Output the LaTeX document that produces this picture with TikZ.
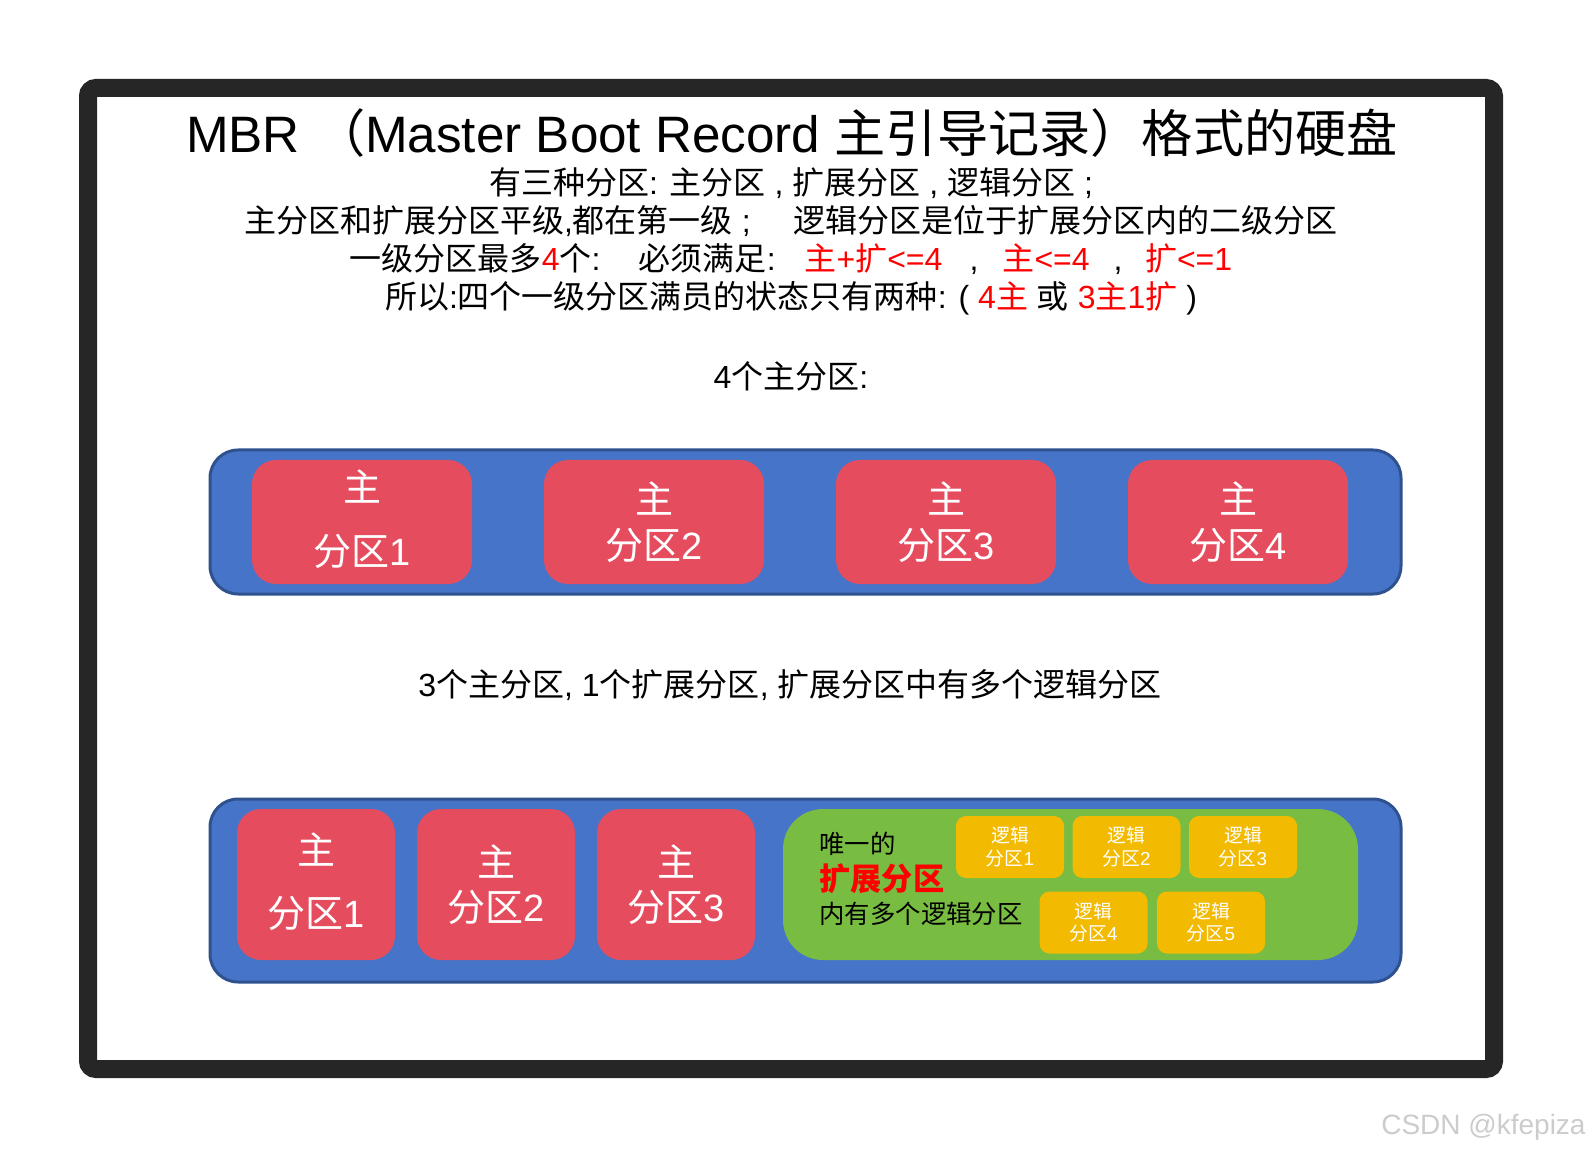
\documentclass[tikz,border=0pt]{standalone}
\usepackage{fontspec}
\setmainfont{Liberation Sans}
\newfontfamily\cjkfont{Noto Sans CJK SC}
\XeTeXinterchartokenstate=1
\newXeTeXintercharclass\cjkcls
\makeatletter
\count@="3000
\loop \XeTeXcharclass\count@=\cjkcls \ifnum\count@<"303F \advance\count@\@ne \repeat
\count@="4E00
\loop \XeTeXcharclass\count@=\cjkcls \ifnum\count@<"9FFF \advance\count@\@ne \repeat
\count@="FF00
\loop \XeTeXcharclass\count@=\cjkcls \ifnum\count@<"FFEF \advance\count@\@ne \repeat
\makeatother
\XeTeXinterchartoks 0 \cjkcls = {\cjkfont}
\XeTeXinterchartoks 4095 \cjkcls = {\cjkfont}
\XeTeXinterchartoks \cjkcls 0 = {\rmfamily}
\XeTeXinterchartoks \cjkcls 4095 = {\rmfamily}
\definecolor{framec}{HTML}{262626}
\definecolor{bluef}{HTML}{4674C8}
\definecolor{blueb}{HTML}{2F528F}
\definecolor{redf}{HTML}{E54D5F}
\definecolor{greenf}{HTML}{78BC42}
\definecolor{yellowf}{HTML}{F2BA00}
\definecolor{redt}{HTML}{FF0000}
\begin{document}
\begin{tikzpicture}[x=0.5pt,y=-0.5pt,
  frame/.style={draw=framec, line width=9pt, rounded corners=4pt},
  bluebox/.style={draw=blueb, fill=bluef, line width=1.5pt, rounded corners=14pt, minimum width=595.5pt, inner sep=0pt},
  redbox/.style={fill=redf, rounded corners=12pt, text=white, align=center, inner sep=0pt},
  redA/.style={redbox, minimum width=110pt, minimum height=62pt},
  redB/.style={redbox, minimum width=79pt, minimum height=75.5pt},
  boxlabel/.style={text=white, align=center, inner sep=0pt},
  greenbox/.style={fill=greenf, rounded corners=20pt, minimum width=287.5pt, minimum height=75.5pt, inner sep=0pt},
  yellowbox/.style={fill=yellowf, rounded corners=5pt, text=white, align=center, inner sep=0pt, minimum width=54pt, minimum height=31pt, font=\fontsize{9.4pt}{11.2pt}\selectfont},
  headline/.style={inner sep=0pt, font=\fontsize{16pt}{19pt}\selectfont},
  greentext/.style={inner sep=0pt, anchor=west, font=\fontsize{12.7pt}{15pt}\selectfont}
]
\path[use as bounding box, fill=white] (0,0) rectangle (1592,1155);
\draw[frame] (88,88) rectangle (1494,1069);

\node[inner sep=0pt, font=\fontsize{25.6pt}{30pt}\selectfont] (title) at (792,133) {MBR （Master Boot Record 主引导记录）格式的硬盘};
\node[headline] (l1) at (791,183) {有三种分区: 主分区 , 扩展分区 , 逻辑分区 ;};
\node[headline] (l2) at (791,221) {主分区和扩展分区平级,都在第一级 ;\hspace{1.35em}逻辑分区是位于扩展分区内的二级分区};
\node[headline] (l3) at (791,259) {一级分区最多{\color{redt}\rmfamily 4}个:\hspace{1.2em}必须满足:\hspace{0.9em}{\color{redt}主+扩<=4}\hspace{0.85em},\hspace{0.75em}{\color{redt}主<=4}\hspace{0.75em},\hspace{0.7em}{\color{redt}扩<=1}};
\node[headline] (l4) at (791,298) {所以:四个一级分区满员的状态只有两种: ( {\color{redt}4主} 或 {\color{redt}3主1扩} )};

\node[headline] (cap1) at (791,376) {4个主分区:};
\node[bluebox, minimum height=72pt] (blue1) at (805.5,522) {};
\node[redA] (p1) at (362,522) {};
\node[boxlabel, font=\fontsize{19pt}{32pt}\selectfont] (p1t) at (362,519) {主\\分区1};
\node[redA, font=\fontsize{19pt}{22.8pt}\selectfont] (p2) at (654,522) {主\\分区2};
\node[redA, font=\fontsize{19pt}{22.8pt}\selectfont] (p3) at (946,522) {主\\分区3};
\node[redA, font=\fontsize{19pt}{22.8pt}\selectfont] (p4) at (1238,522) {主\\分区4};

\node[headline] (cap2) at (790,685) {3个主分区, 1个扩展分区, 扩展分区中有多个逻辑分区};
\node[bluebox, minimum height=91.5pt] (blue2) at (805.5,890.5) {};
\node[redB] (q1) at (316,884.5) {};
\node[boxlabel, font=\fontsize{19pt}{31.5pt}\selectfont] (q1t) at (316,881.5) {主\\分区1};
\node[redB, font=\fontsize{19pt}{22.4pt}\selectfont] (q2) at (496,884.5) {主\\分区2};
\node[redB, font=\fontsize{19pt}{22.4pt}\selectfont] (q3) at (676,884.5) {主\\分区3};
\node[greenbox] (ext) at (1070.5,884.5) {};
\node[greentext] (g1) at (819,844) {唯一的};
\node[greentext, font=\fontsize{15.6pt}{18pt}\selectfont\bfseries, text=redt] (g2) at (819,879) {扩展分区};
\node[greentext] (g3) at (819,914) {内有多个逻辑分区};
\node[yellowbox] (y1) at (1010,847) {逻辑\\分区1};
\node[yellowbox] (y2) at (1126.5,847) {逻辑\\分区2};
\node[yellowbox] (y3) at (1243,847) {逻辑\\分区3};
\node[yellowbox] (y4) at (1093.5,922.5) {逻辑\\分区4};
\node[yellowbox] (y5) at (1211,922.5) {逻辑\\分区5};

\node[anchor=east, inner sep=0pt, text=black!20, font=\fontsize{14pt}{16pt}\selectfont] (wm) at (1586,1127) {CSDN @kfepiza};
\end{tikzpicture}
\end{document}
